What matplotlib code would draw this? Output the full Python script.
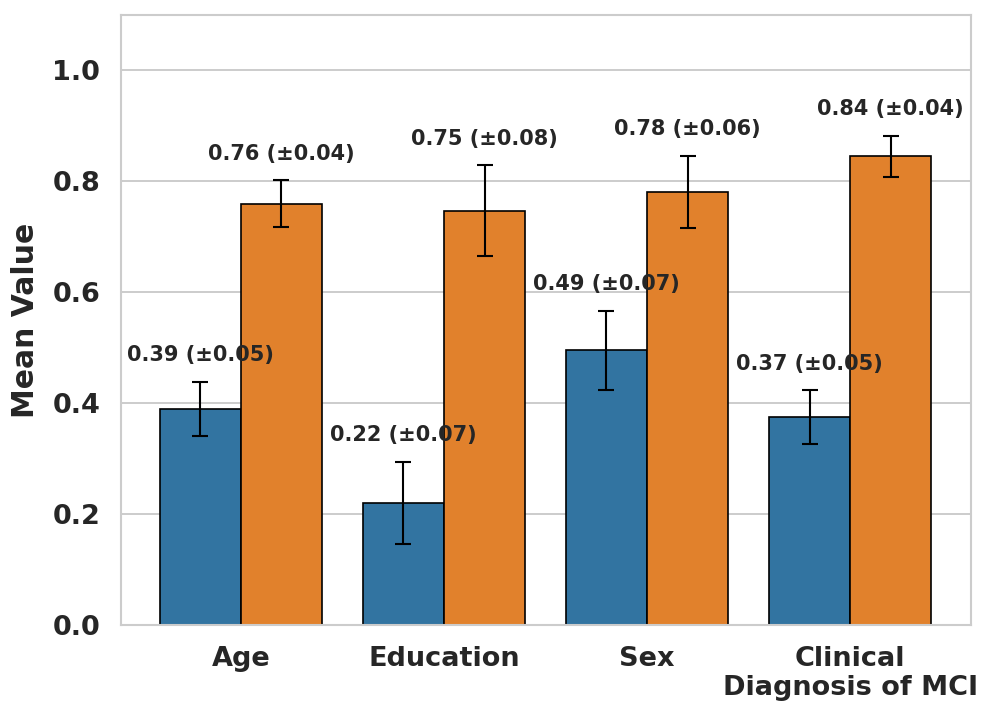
import matplotlib
matplotlib.use("Agg")
import matplotlib.pyplot as plt
import seaborn as sns
import numpy as np

# values
categories = ["Age", "Education", "Sex", "Clinical\nDiagnosis of MCI"]
group_a_mean = [0.39, 0.22, 0.495, 0.375]
group_a_err = [0.049, 0.074, 0.072, 0.048]
group_b_mean = [0.76, 0.747, 0.781, 0.845]
group_b_err = [0.042, 0.082, 0.065, 0.037]
group_a_labels = ["0.39 (±0.05)", "0.22 (±0.07)", "0.49 (±0.07)", "0.37 (±0.05)"]
group_b_labels = ["0.76 (±0.04)", "0.75 (±0.08)", "0.78 (±0.06)", "0.84 (±0.04)"]

sns.set_style("whitegrid")
plt.rcParams["font.family"] = ["DejaVu Sans"]
plt.rcParams["axes.edgecolor"] = "#cccccc"
plt.rcParams["axes.linewidth"] = 1.5
plt.rcParams["grid.linewidth"] = 1.4
plt.rcParams["grid.color"] = "#cccccc"

colors = ["#3274a1", "#e1812c"]
text_color = "#262626"

fig = plt.figure(figsize=(9.97, 7.18), dpi=100)
ax = fig.add_axes([121 / 997, 1 - 625 / 718, 850 / 997, 610 / 718])

x = np.arange(len(categories))
width = 0.4

for offset, means, errs, labels, col in [
    (-width / 2, group_a_mean, group_a_err, group_a_labels, colors[0]),
    (width / 2, group_b_mean, group_b_err, group_b_labels, colors[1]),
]:
    ax.bar(x + offset, means, width, color=col, edgecolor="black", linewidth=1.2, zorder=2)
    ax.errorbar(x + offset, means, yerr=errs, fmt="none", ecolor="black",
                elinewidth=1.5, capsize=5.8, capthick=1.5, zorder=3)
    for xi, m, e, lab in zip(x + offset, means, errs, labels):
        ax.text(xi, m + e + 0.03, lab, ha="center", va="bottom",
                fontsize=15, fontweight="bold", color=text_color, zorder=4)

ax.set_xticks(x)
ax.set_xticklabels(categories, fontsize=19.5, fontweight="bold", color=text_color,
                   linespacing=1.15)
ax.set_xlim(-0.59, 3.595)
ax.set_ylim(0, 1.1)
ax.set_yticks([0.0, 0.2, 0.4, 0.6, 0.8, 1.0])
ax.set_yticklabels(["0.0", "0.2", "0.4", "0.6", "0.8", "1.0"], fontsize=19.5,
                   fontweight="bold", color=text_color)
ax.tick_params(axis="x", length=0, pad=15)
ax.tick_params(axis="y", length=0, pad=15)
ax.set_ylabel("Mean Value", fontsize=21.5, fontweight="bold", color=text_color, labelpad=9)
ax.grid(axis="x", visible=False)
ax.set_axisbelow(True)

fig.savefig("out.png", dpi=100)
